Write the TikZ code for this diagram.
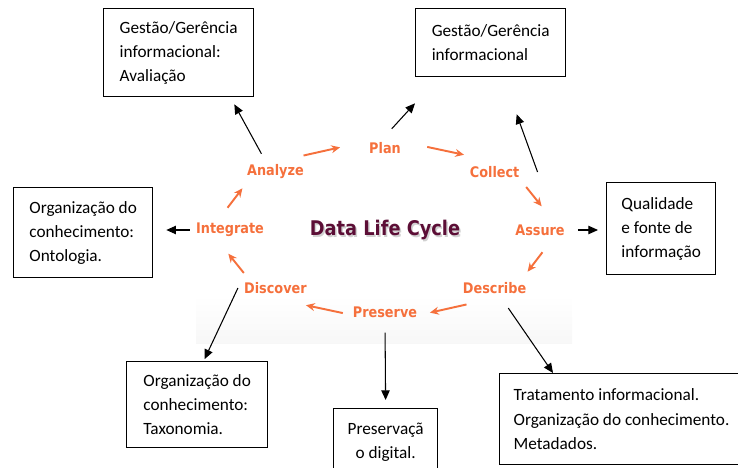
\documentclass[tikz,border=0pt]{standalone}
\usepackage{fontspec}
\setmainfont{Carlito}
\newfontfamily\cyclefont[FakeStretch=0.88]{DejaVu Sans}
\usetikzlibrary{arrows.meta, calc, positioning}
\definecolor{stageorange}{RGB}{245,112,60}
\definecolor{titlemaroon}{RGB}{92,14,54}
\tikzset{
infobox/.style={draw, line width=0.75pt, align=left, inner xsep=0.28cm, font=\fontsize{9.8}{13.7}\selectfont}, % boxes around the cycle
stage/.style={text=stageorange, font=\cyclefont\bfseries\fontsize{8.3}{9}\selectfont}, % steps of the cycle
cyc/.style={draw=stageorange, line width=1.1pt, -{Stealth[length=5pt,width=4.5pt]}}, % orange arrows between steps
link/.style={line width=0.6pt, -{Triangle[length=5.5pt,width=4.8pt]}}, % black arrows to the boxes
}

\begin{document}
\begin{tikzpicture}
\useasboundingbox (0,0) rectangle (14.76,-9.36);
% faint backdrop under the lower half of the cycle
\shade[top color=white, bottom color=black!3] (3.92,-5.9) rectangle (11.44,-6.86);

% title with its soft shadow
\coordinate (mid) at (7.70,-4.60);
\node[text=black!40, opacity=.45, font=\cyclefont\bfseries\fontsize{11.5}{13}\selectfont] (shadow) at ([shift={(0.03,-0.05)}]mid) {Data Life Cycle};
\node[text=titlemaroon, font=\cyclefont\bfseries\fontsize{11.5}{13}\selectfont] (title) at (mid) {Data Life Cycle};

% the eight steps on an ellipse, each followed by an arrow
\foreach \name/\txt/\a in {plan/Plan/90, collect/Collect/45, assure/Assure/0, describe/Describe/-45,
  preserve/Preserve/-90, discover/Discover/-135, integrate/Integrate/180, analyze/Analyze/135}{
  \node[stage] (\name) at ($(mid)+(\a:3.1cm and 1.64cm)$) {\txt};
  \coordinate (\name-from) at ($(mid)+(\a-15:3.26cm and 1.72cm)$);
  \coordinate (\name-to) at ($(mid)+(\a-29:3.26cm and 1.72cm)$);
  \draw[cyc] (\name-from) -- (\name-to);
}

% boxes
\node[infobox, anchor=north west, minimum width=3cm, minimum height=1.76cm] (avaliacao) at (2.06,-0.16) {Gestão/Gerência\\informacional:\\Avaliação};
\node[infobox, anchor=north west, minimum width=3cm, minimum height=1.36cm] (gestao) at (8.30,-0.16) {Gestão/Gerência\\informacional};
\node[infobox, anchor=north west, minimum width=2.78cm, minimum height=1.8cm] (ontologia) at (0.26,-3.74) {Organização do\\conhecimento:\\Ontologia.};
\node[infobox, anchor=north west, minimum width=2.18cm, minimum height=1.84cm] (qualidade) at (12.12,-3.64) {Qualidade\\e fonte de\\informação};
\node[infobox, anchor=north west, minimum width=2.82cm, minimum height=1.72cm] (taxonomia) at (2.52,-7.22) {Organização do\\conhecimento:\\Taxonomia.};
\node[infobox, align=center, anchor=north west, minimum width=2.08cm, minimum height=1.36cm] (preservacao) at (6.66,-8.16) {Preservaçã\\o digital.};
\node[infobox, anchor=north west, minimum height=1.82cm] (tratamento) at (9.98,-7.46) {Tratamento informacional.\\Organização do conhecimento.\\Metadados.};

% arrows from the steps to the boxes
\draw[link] ([shift={(-0.28,0.1)}]analyze.north) -- ([shift={(-0.4,-0.14)}]avaliacao.south east);
\draw[link, shorten <=0.2cm] (plan.north) -- ([yshift=-0.52cm]gestao.south west);
\draw[link] ([xshift=0.24cm]collect.east) -- ([shift={(0.52,-0.74)}]gestao.south);
\draw[link, shorten <=0.14cm, shorten >=0.16cm] (assure.east) -- (assure.east -| qualidade.west);
\draw[link, shorten >=0.26cm] (integrate.west) -- (integrate.west -| ontologia.east);
\draw[link, shorten >=0.04cm] (discover.west) -- ([xshift=0.13cm]taxonomia.north);
\draw[link, shorten <=0.18cm, shorten >=0.16cm] (preserve.south) -- (preservacao.north);
\draw[link, shorten <=0.2cm] ([xshift=0.16cm]describe.south) -- ([xshift=1.08cm]tratamento.north west);
\end{tikzpicture}
\end{document}
